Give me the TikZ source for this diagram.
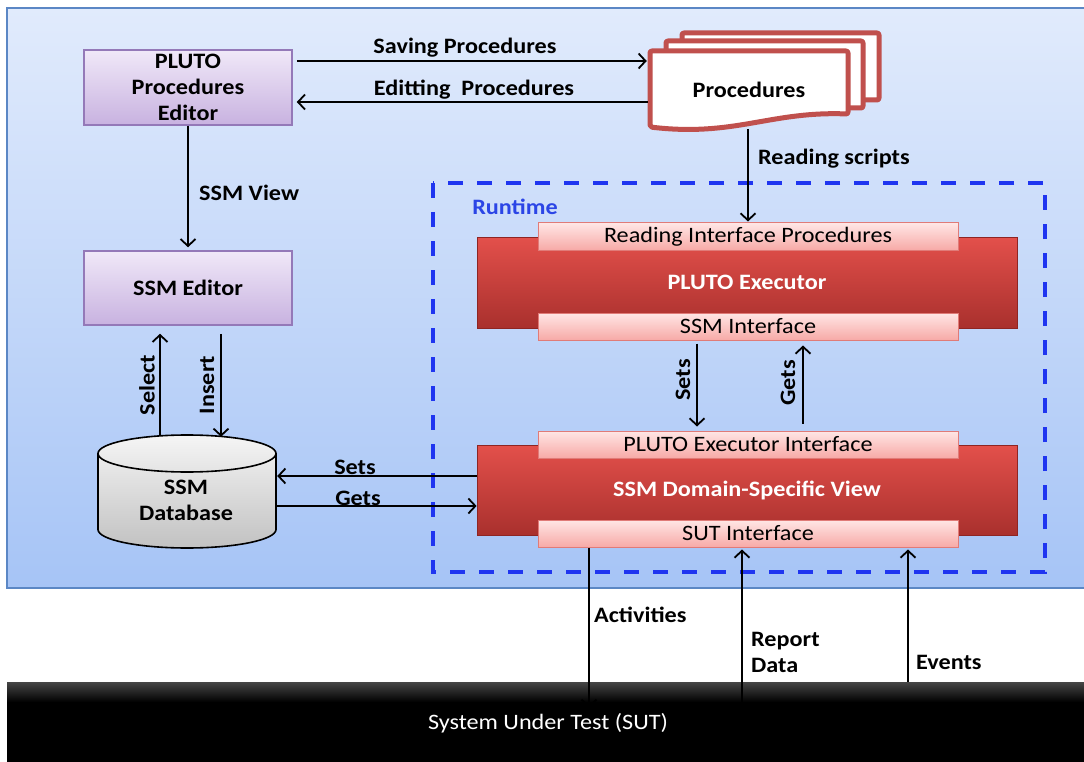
\documentclass[tikz,border=0pt]{standalone}
\usepackage{fontspec}
\setmainfont{Carlito}[FakeStretch=1.1]
\usetikzlibrary{arrows.meta}
\definecolor{paneltop}{HTML}{E1EBFC}
\definecolor{panelbot}{HTML}{A6C4F6}
\definecolor{panelborder}{HTML}{5B87C5}
\definecolor{purtop}{HTML}{F0E8F8}
\definecolor{purbot}{HTML}{C8B2E0}
\definecolor{purborder}{HTML}{9479B8}
\definecolor{redtop}{HTML}{E3504B}
\definecolor{redbot}{HTML}{A9302D}
\definecolor{redborder}{HTML}{8E2523}
\definecolor{tabtop}{HTML}{FFE6E5}
\definecolor{tabbot}{HTML}{F7AAA7}
\definecolor{tabborder}{HTML}{E07B78}
\definecolor{docred}{HTML}{C0504D}
\definecolor{runblue}{HTML}{1F35F0}
\definecolor{runtext}{HTML}{2B45E6}
\begin{document}
\begin{tikzpicture}[x=1pt,y=-1pt,
  fnt/.style={font=\fontsize{22}{26}\selectfont},
  bfnt/.style={font=\bfseries\fontsize{22}{26}\selectfont},
  lbl/.style={bfnt, inner sep=0pt},
  arr/.style={line width=1.8pt, -{Straight Barb[length=7pt,width=15pt]}},
  pbox/.style={bfnt, draw=purborder, line width=1.5pt, top color=purtop, bottom color=purbot,
     minimum width=208pt, align=center, inner sep=0pt},
  bigred/.style={bfnt, text=white, draw=redborder, line width=0.8pt, top color=redtop, bottom color=redbot,
     minimum width=540pt, inner sep=0pt},
  tabbox/.style={fnt, draw=tabborder, line width=1pt, top color=tabtop, bottom color=tabbot,
     minimum width=420pt, minimum height=27pt, inner sep=0pt},
  pg/.style={draw=docred, line width=5pt, fill=white, rounded corners=2pt, line join=round},
]
\useasboundingbox (0,0) rectangle (1084,762);
\fill[white] (0,0) rectangle (1084,762);
% outer panel
\shade[top color=paneltop, bottom color=panelbot] (7,8) rectangle (1092,588);
\draw[panelborder, line width=1.5pt] (1092,8) -- (7,8) -- (7,588) -- (1092,588);

% editors
\node[pbox, minimum height=75pt] (ed) at (188,87.5) {PLUTO\\Procedures\\Editor};
\node[pbox, minimum height=74pt] (ssmed) at (188,288) {SSM Editor};

% procedures stack
\draw[pg] (682,33) rectangle (879,100);
\draw[pg] (666,41) rectangle (863,108);
\draw[pg] (650,51) -- (848,51) -- (848,114) .. controls (770,111) and (735,137) .. (650,127) -- cycle;
\node[bfnt, minimum width=198pt, minimum height=78pt, inner sep=0pt] (procf) at (749,90) {Procedures};

% runtime box
\draw[runblue, line width=3.5pt, dash pattern=on 15pt off 14pt] (433,183) rectangle (1045,572);
\node[lbl, text=runtext] (rt) at (515,207) {Runtime};

% executor
\node[bigred, minimum height=91pt] (exec) at (747,282.5) {PLUTO Executor};
\node[tabbox] (rip) at (748,236.5) {Reading Interface Procedures};
\node[tabbox] (ssmi) at (748,326.5) {SSM Interface};

% domain specific view
\node[bigred, minimum height=90pt] (dsv) at (747,490) {SSM Domain-Specific View};
\node[tabbox] (pei) at (748,444.5) {PLUTO Executor Interface};
\node[tabbox] (suti) at (748,533.5) {SUT Interface};

% database cylinder
\shade[top color=gray!8, bottom color=gray!48]
  (98,453.5) -- (98,529.5) arc[start angle=180, end angle=0, x radius=89, y radius=18.5]
  -- (276,453.5) arc[start angle=0, end angle=-180, x radius=89, y radius=18.5] -- cycle;
\draw[line width=1.6pt]
  (98,453.5) -- (98,529.5) arc[start angle=180, end angle=0, x radius=89, y radius=18.5]
  -- (276,453.5) arc[start angle=0, end angle=-180, x radius=89, y radius=18.5] -- cycle;
\draw[line width=1.6pt] (276,453.5) arc[start angle=0, end angle=180, x radius=89, y radius=18.5];
\node[bfnt, minimum width=178pt, minimum height=112pt, inner sep=0pt, align=center] (db) at (187,491) {};
\node[bfnt, align=center, inner sep=0pt] (dbt) at (186,500) {SSM\\Database};

% SUT bar
\node[fnt, text=white, fill=black, minimum width=1082pt, minimum height=80pt, inner sep=0pt] (sut) at (548,722) {};
\shade[top color=gray!55!black, bottom color=black] (7,682) rectangle (1089,702);
\node[fnt, text=white, inner sep=0pt] (sutt) at (548,723) {System Under Test (SUT)};

% column coordinates
\coordinate (xact) at (589,0);
\coordinate (xrep) at (742,0);
\coordinate (xev) at (908,0);
\coordinate (xsets) at (697,0);
\coordinate (xgets) at (803,0);

% connectors
\draw[arr, shorten <=4pt, shorten >=3pt] ([yshift=26.5pt]ed.east) -- ([yshift=26.5pt]ed.east -| procf.west);
\draw[arr, shorten <=2pt, shorten >=4pt] ([yshift=-14.5pt]ed.east -| procf.west) -- ([yshift=-14.5pt]ed.east);
\node[lbl] at (465,48) {Saving Procedures};
\node[lbl] at (474,90) {Editting\ \ Procedures};

\draw[arr, shorten >=3pt] (ed.south) -- (ssmed.north);
\node[lbl, anchor=west] at (199,193) {SSM View};

\draw[arr, shorten >=1pt] (procf.south -| rip.north) -- (rip.north);
\node[lbl, anchor=west] at (758,159) {Reading scripts};

\draw[arr, shorten <=3pt, shorten >=4pt] (ssmi.south -| xsets) -- (pei.north -| xsets);
\draw[arr, shorten <=7pt, shorten >=5pt] (pei.north -| xgets) -- (ssmi.south -| xgets);
\node[lbl, rotate=90] at (683,380) {Sets};
\node[lbl, rotate=90] at (788,383) {Gets};

\draw[arr, shorten >=8pt] ([xshift=-27pt]db.north) -- ([xshift=-27pt]db.north |- ssmed.south);
\draw[arr, shorten <=8pt, shorten >=-2pt] ([xshift=34pt]db.north |- ssmed.south) -- ([xshift=34pt]db.north);
\node[lbl, rotate=90] at (147,385) {Select};
\node[lbl, rotate=90] at (207,385) {Insert};

\draw[arr, shorten >=1pt] ([yshift=14pt]dsv.west) -- ([yshift=14pt]dsv.west -| db.east);
\draw[arr, shorten <=1pt] ([yshift=-16pt]dsv.west -| db.east) -- ([yshift=-16pt]dsv.west);
\node[lbl] at (355,467) {Sets};
\node[lbl] at (358,498) {Gets};

\draw[arr] (suti.south -| xact) -- ([yshift=-26pt]sut.north -| xact);
\draw[arr, shorten >=2pt] ([yshift=-26pt]sut.north -| xrep) -- (suti.south -| xrep);
\draw[arr, shorten >=2pt] (sut.north -| xev) -- (suti.south -| xev);
\node[lbl, anchor=west] at (594,615) {Activities};
\node[lbl, anchor=west, align=left] at (751,652) {Report\\Data};
\node[lbl, anchor=west] at (916,662) {Events};
\end{tikzpicture}
\end{document}
